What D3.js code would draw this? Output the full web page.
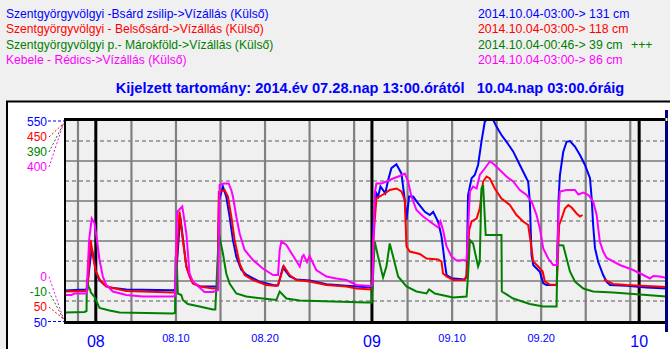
<!DOCTYPE html>
<html><head><meta charset="utf-8">
<script src="https://cdn.jsdelivr.net/npm/d3@7"></script>
<style>
body{margin:0;background:#f0f0f0;overflow:hidden}
svg{display:block}
text{font-family:"Liberation Sans",Arial,sans-serif}
</style>
</head><body><svg id="c" width="670" height="349"></svg>
<script>
// ---------------- data ----------------
const seriesNames = [
  "Szentgyörgyvölgyi -Bsárd zsilip->Vízállás (Külső)",
  "Szentgyörgyvölgyi - Belsősárd->Vízállás (Külső)",
  "Szentgyörgyvölgyi p.- Márokföld->Vízállás (Külső)",
  "Kebele - Rédics->Vízállás (Külső)"
];
const lastReadings = [
  "2014.10.04-03:00-> 131 cm",
  "2014.10.04-03:00-> 118 cm",
  "2014.10.04-00:46-> 39 cm",
  "2014.10.04-03:00-> 86 cm"
];
const lastFlags = ["", "", "+++", ""];
const titleText = "Kijelzett tartomány: 2014.év 07.28.nap 13:00.órától   10.04.nap 03:00.óráig";
const timeRange = ["07.28 13:00", "10.04 03:00"];
const yDomains = [[50, 550], [50, 450], [-10, 390], [0, 400]];
const topLabels = ["550", "450", "390", "400"];
const bottomLabels = ["50", "50", "-10", "0"];

const blueData = [
["07.28 13:00",126],["07.30 20:00",129],["07.31 00:00",130],["07.31 13:00",232],["07.31 20:30",198],
["08.01 01:00",170],["08.01 10:00",152],["08.01 23:30",140],["08.02 13:00",134],["08.04 10:00",129],
["08.09 15:00",127],["08.09 21:30",128],["08.10 11:30",311],["08.11 04:00",186],["08.11 13:00",162],
["08.11 21:30",146],["08.12 15:30",137],["08.14 03:30",136],["08.14 16:00",136],["08.14 20:00",352],
["08.15 06:30",386],["08.15 15:30",361],["08.16 00:30",311],["08.16 09:30",252],["08.16 18:30",211],
["08.17 08:00",178],["08.17 21:30",166],["08.19 09:30",148],["08.20 21:30",140],["08.21 11:00",139],
["08.22 00:00",184],["08.22 18:00",162],["08.23 12:30",154],["08.25 00:00",151],["08.26 21:30",142],
["08.30 06:00",136],["08.31 22:00",134],["09.01 01:00",135],["09.01 03:00",286],["09.01 12:00",369],
["09.01 16:30",361],["09.01 23:00",386],["09.02 06:00",377],["09.02 12:00",369],["09.02 19:30",402],
["09.03 04:30",432],["09.03 18:00",442],["09.04 07:30",419],["09.04 16:30",352],["09.04 21:00",302],
["09.05 04:00",361],["09.05 15:00",361],["09.06 04:30",344],["09.06 22:30",323],["09.07 12:00",315],
["09.07 21:00",323],["09.08 10:30",298],["09.08 19:30",261],["09.09 04:30",194],["09.09 09:00",165],
["09.09 22:30",157],["09.11 10:00",154],["09.11 15:00",161],["09.11 19:00",365],["09.12 04:30",407],
["09.12 13:00",415],["09.12 22:00",440],["09.13 07:00",498],["09.13 16:00",548],["09.13 21:00",553],
["09.14 14:30",553],["09.14 23:30",536],["09.15 13:00",515],["09.16 02:30",498],["09.16 20:30",474],
["09.17 14:30",440],["09.18 04:00",415],["09.18 13:00",398],["09.18 17:30",348],["09.18 22:00",215],
["09.19 02:30",190],["09.19 20:30",173],["09.20 05:30",144],["09.20 14:30",140],["09.21 18:00",140],
["09.21 20:00",232],["09.21 23:00",357],["09.22 02:30",415],["09.22 11:30",473],["09.22 20:30",498],
["09.23 05:30",500],["09.23 19:00",486],["09.24 08:30",465],["09.24 22:00",440],["09.25 11:30",407],
["09.25 16:00",357],["09.25 20:00",290],["09.26 01:00",232],["09.26 09:30",198],["09.26 23:00",165],
["09.27 08:30",148],["09.27 17:30",140],["09.29 14:30",138],["10.01 20:00",134],["10.04 03:00",131]
];
const redData = [
["07.28 13:00",109],["07.30 20:00",110],["07.31 01:30",112],["07.31 10:00",212],["07.31 16:00",182],
["07.31 23:00",152],["08.01 10:00",133],["08.02 04:00",119],["08.04 10:00",110],["08.09 15:30",107],
["08.09 21:30",108],["08.10 09:30",269],["08.10 18:30",212],["08.11 04:00",159],["08.11 12:30",139],
["08.11 21:30",125],["08.12 15:30",119],["08.14 03:30",115],["08.14 16:00",116],["08.14 19:30",308],
["08.15 11:00",312],["08.15 20:00",299],["08.16 05:00",259],["08.16 14:00",212],["08.17 03:30",165],
["08.17 17:00",142],["08.18 15:30",132],["08.20 03:30",122],["08.21 06:30",120],["08.21 11:00",122],
["08.22 02:30",160],["08.22 18:00",142],["08.23 12:30",132],["08.25 00:00",129],["08.26 21:30",122],
["08.29 03:00",119],["08.30 06:00",115],["08.31 22:00",113],["09.01 01:00",114],["09.01 03:00",205],
["09.01 12:00",295],["09.01 21:00",299],["09.02 10:30",305],["09.03 00:00",312],["09.03 18:00",315],
["09.04 07:30",309],["09.04 16:30",292],["09.04 21:00",199],["09.05 06:00",189],["09.06 09:00",184],
["09.07 03:00",175],["09.08 10:30",173],["09.08 19:30",169],["09.08 23:30",145],["09.09 09:00",139],
["09.10 02:30",132],["09.11 10:00",132],["09.11 15:00",142],["09.11 22:00",232],["09.12 04:30",249],
["09.12 18:00",255],["09.13 02:30",275],["09.13 11:30",329],["09.13 21:00",339],["09.14 05:30",335],
["09.14 19:00",315],["09.15 13:00",295],["09.16 11:30",282],["09.17 05:30",262],["09.17 23:30",249],
["09.18 13:00",242],["09.18 19:30",209],["09.19 02:30",169],["09.19 16:00",159],["09.20 04:00",149],
["09.20 10:00",129],["09.20 23:30",123],["09.21 18:00",122],["09.22 00:30",242],["09.22 07:00",255],
["09.22 16:00",275],["09.23 01:00",282],["09.23 10:00",277],["09.23 23:30",265],["09.24 08:30",259],
["09.24 15:30",262],["09.25 12:00",null],["09.27 01:00",133],["09.28 02:00",124],["09.29 14:30",122],
["10.01 20:00",120],["10.04 03:00",118]
];
const greenData = [
["07.28 13:00",7],["07.30 17:30",8],["07.30 23:00",10],["07.31 00:00",74],["07.31 04:30",58],
["07.31 09:00",53],["07.31 10:00",48],["07.31 20:30",38],["08.01 10:00",16],["08.02 13:00",11],
["08.03 16:00",7],["08.09 15:30",5],["08.09 21:30",6],["08.09 23:00",119],["08.10 03:00",92],
["08.10 05:00",45],["08.10 14:30",42],["08.10 18:30",32],["08.11 08:00",24],["08.12 15:30",19],
["08.14 03:30",13],["08.14 10:00",13],["08.14 19:30",165],["08.15 06:30",125],["08.15 15:30",85],
["08.16 00:30",65],["08.16 18:30",45],["08.17 21:30",39],["08.19 18:00",35],["08.21 06:30",32],
["08.21 15:30",49],["08.22 09:30",35],["08.23 21:30",31],["08.27 15:00",29],["08.31 09:00",27],
["08.31 23:30",27],["09.01 07:30",149],["09.01 16:30",119],["09.02 06:00",77],["09.02 15:00",99],
["09.03 00:00",145],["09.03 09:00",119],["09.03 22:30",79],["09.04 21:00",59],["09.06 00:00",49],
["09.07 03:00",45],["09.07 10:00",53],["09.08 01:30",45],["09.10 02:30",37],["09.11 15:00",39],
["09.11 19:00",82],["09.12 00:00",152],["09.12 08:30",145],["09.12 22:00",99],["09.13 02:30",109],
["09.13 07:00",255],["09.13 11:30",262],["09.13 18:30",162],["09.15 13:00",162],["09.15 14:00",49],
["09.16 20:30",35],["09.18 17:30",24],["09.20 05:30",19],["09.21 17:30",19],["09.21 20:00",142],
["09.22 11:30",141],["09.22 20:30",115],["09.23 05:30",89],["09.23 19:00",69],["09.24 17:30",55],
["09.25 20:00",49],["09.28 02:00",47],["09.29 14:30",45],["10.01 20:00",42],["10.04 00:46",39]
];
const magentaData = [
["07.28 13:00",52],["07.29 06:30",52],["07.29 14:30",55],["07.30 23:00",55],["07.31 06:00",162],
["07.31 13:00",205],["07.31 20:30",196],["08.01 03:00",162],["08.01 10:00",122],["08.01 19:00",89],
["08.02 04:00",72],["08.02 22:00",59],["08.04 10:00",52],["08.06 07:00",49],["08.09 15:30",49],
["08.09 21:30",50],["08.10 03:00",218],["08.10 17:00",229],["08.10 20:30",212],["08.11 04:00",175],
["08.11 12:30",95],["08.11 21:30",79],["08.12 15:30",67],["08.13 05:00",58],["08.14 03:30",58],
["08.14 17:30",62],["08.14 21:30",272],["08.15 08:30",275],["08.15 22:00",275],["08.16 05:00",262],
["08.16 09:30",249],["08.16 18:30",209],["08.17 03:30",175],["08.17 17:00",142],["08.18 15:30",122],
["08.19 18:00",105],["08.20 21:30",92],["08.21 11:00",92],["08.21 15:30",142],["08.21 20:00",159],
["08.22 09:30",152],["08.23 21:30",109],["08.24 04:30",129],["08.24 08:00",132],["08.24 17:00",118],
["08.25 00:00",130],["08.25 18:00",102],["08.26 21:30",89],["08.28 00:00",85],["08.29 03:00",82],
["08.30 06:00",72],["08.31 22:00",70],["09.01 01:30",72],["09.01 07:30",255],["09.01 12:00",275],
["09.02 01:30",275],["09.02 15:00",279],["09.03 09:00",285],["09.04 03:00",290],["09.04 16:30",295],
["09.05 01:30",279],["09.05 10:30",249],["09.06 00:00",222],["09.06 18:00",209],["09.07 12:00",199],
["09.08 10:30",187],["09.08 17:00",199],["09.08 23:30",182],["09.09 09:00",149],["09.09 22:30",129],
["09.10 12:00",121],["09.11 15:00",122],["09.12 00:00",259],["09.12 08:30",269],["09.12 18:00",265],
["09.13 02:30",292],["09.13 16:00",305],["09.14 05:30",319],["09.14 14:30",315],["09.15 08:30",302],
["09.16 02:30",289],["09.16 20:30",279],["09.17 14:30",262],["09.18 08:30",252],["09.18 22:00",239],
["09.19 11:30",212],["09.19 20:30",185],["09.20 05:30",145],["09.20 19:00",125],["09.21 08:30",112],
["09.21 19:00",112],["09.21 23:00",225],["09.22 02:30",259],["09.22 20:30",262],["09.23 19:00",262],
["09.24 04:00",253],["09.24 17:30",257],["09.25 07:00",252],["09.25 20:00",239],["09.26 05:30",212],
["09.26 14:00",159],["09.26 23:00",139],["09.27 08:30",126],["09.28 20:00",112],["09.30 08:00",102],
["10.01 11:00",92],["10.02 05:00",85],["10.02 14:00",90],["10.03 08:00",89],["10.04 03:00",86]
];

// ---------------- styles ----------------
const colors = ["#0000ff", "#ff0000", "#008000", "#ff00ff"];
const allData = [blueData, redData, greenData, magentaData];

const svg = d3.select("#c");
const parse = d3.timeParse("%Y.%m.%d %H:%M");
const T = s => parse("2014." + s);

const L = 65, R = 667, TOP = 121, BOT = 321;
const x = d3.scaleTime().domain(timeRange.map(T)).range([L, R]);
const ys = yDomains.map(d => d3.scaleLinear().domain(d).range([BOT, TOP]));

// page background
svg.append("rect").attr("width", 670).attr("height", 349).attr("fill", "#f0f0f0");

// header legend
const hdr = svg.append("g");
seriesNames.forEach((n, i) => {
  hdr.append("text").attr("x", 6).attr("y", 17.5 + i * 15.6).attr("font-size", 12.1)
    .attr("fill", colors[i]).text(n);
  hdr.append("text").attr("x", 478).attr("y", 17.5 + i * 15.6).attr("font-size", 12.3)
    .attr("fill", colors[i]).text(lastReadings[i]);
  if (lastFlags[i]) hdr.append("text").attr("x", 631).attr("y", 17.5 + i * 15.6)
    .attr("font-size", 12.3).attr("fill", colors[i]).text(lastFlags[i]);
});
svg.append("text").attr("x", 370).attr("y", 93).attr("text-anchor", "middle")
  .attr("font-size", 14.6).attr("font-weight", "bold").attr("fill", "#0000ff")
  .style("white-space", "pre").text(titleText);

// white panel
svg.append("rect").attr("x", 7).attr("y", 101.5).attr("width", 700).attr("height", 300)
  .attr("fill", "#ffffff").attr("stroke", "#000").attr("stroke-width", 2);

// plot background
svg.append("rect").attr("x", L).attr("y", TOP - 1).attr("width", R - L).attr("height", BOT - TOP + 1)
  .attr("fill", "#f0f0f0");

// horizontal grid (based on first series scale)
const gy = ys[0];
const hTicks = d3.range(yDomains[0][0] + 50, yDomains[0][1], 50);
svg.append("g").selectAll("line").data(hTicks).join("line")
  .attr("x1", L).attr("x2", R).attr("y1", d => gy(d)).attr("y2", d => gy(d))
  .attr("stroke", d => ((d / 50) % 2 === 0 ? "#8c8c8c" : "#7a7a7a"))
  .attr("stroke-width", d => ((d / 50) % 2 === 0 ? 1.3 : 1.6))
  .attr("stroke-dasharray", d => ((d / 50) % 2 === 0 ? "4,3" : null));

// vertical grid
const days = d3.timeDay.range(d3.timeDay.ceil(x.domain()[0]), x.domain()[1]);
const fiveDays = days.filter(d => [5, 10, 15, 20, 25, 30].includes(d.getDate()));
const monthStarts = days.filter(d => d.getDate() === 1);
svg.append("g").selectAll("line").data(fiveDays).join("line")
  .attr("x1", d => x(d)).attr("x2", d => x(d)).attr("y1", TOP - 1).attr("y2", BOT)
  .attr("stroke", "#808080").attr("stroke-width", 2.2);
svg.append("g").selectAll("line").data(monthStarts).join("line")
  .attr("x1", d => x(d)).attr("x2", d => x(d)).attr("y1", TOP - 2).attr("y2", BOT)
  .attr("stroke", "#000").attr("stroke-width", 3);

// clip
svg.append("clipPath").attr("id", "pc").append("rect")
  .attr("x", L).attr("y", TOP - 2).attr("width", R - L).attr("height", BOT - TOP + 2);

// series
const gS = svg.append("g").attr("clip-path", "url(#pc)");
allData.forEach((data, i) => {
  const line = d3.line().defined(d => d[1] != null)
    .x(d => x(T(d[0]))).y(d => ys[i](d[1]));
  gS.append("path").datum(data).attr("d", line).attr("fill", "none")
    .attr("stroke", colors[i]).attr("stroke-width", 2).attr("stroke-linejoin", "miter");
});

// plot frame
svg.append("line").attr("x1", L - 1).attr("x2", R).attr("y1", TOP - 1.5).attr("y2", TOP - 1.5)
  .attr("stroke", "#000").attr("stroke-width", 3);
svg.append("line").attr("x1", L - 1).attr("x2", R).attr("y1", BOT + 1.5).attr("y2", BOT + 1.5)
  .attr("stroke", "#000").attr("stroke-width", 3);
svg.append("line").attr("x1", L).attr("x2", L).attr("y1", TOP - 3).attr("y2", BOT + 3)
  .attr("stroke", "#000").attr("stroke-width", 2);

// current-time cursor
svg.append("line").attr("x1", x(T(timeRange[1])) - 0.5).attr("x2", x(T(timeRange[1])) - 0.5)
  .attr("y1", 110).attr("y2", 332).attr("stroke", "#000080").attr("stroke-width", 3);
svg.append("rect").attr("x", x(T(timeRange[1])) - 1.5).attr("y", 118).attr("width", 2).attr("height", 3)
  .attr("fill", "#ffff80");

// y-axis labels
const topY = [125.7, 141, 156, 171];
const botY = [326.7, 311, 296, 280.7];
const ax = svg.append("g");
topLabels.forEach((t, i) => {
  ax.append("text").attr("x", 47).attr("y", topY[i]).attr("text-anchor", "end")
    .attr("font-size", 12).attr("fill", colors[i]).text(t);
  if (i === 0) ax.append("line").attr("x1", 48).attr("x2", 64).attr("y1", TOP).attr("y2", TOP)
    .attr("stroke", colors[i]).attr("stroke-dasharray", "3,2");
  else ax.append("line").attr("x1", 49).attr("y1", topY[i] - 4).attr("x2", 63.5).attr("y2", TOP + 2.5)
    .attr("stroke", colors[i]).attr("stroke-dasharray", "2,2");
});
bottomLabels.forEach((t, i) => {
  ax.append("text").attr("x", 47).attr("y", botY[i]).attr("text-anchor", "end")
    .attr("font-size", 12).attr("fill", colors[i]).text(t);
  if (i === 0) ax.append("line").attr("x1", 48).attr("x2", 64).attr("y1", BOT + 0.5).attr("y2", BOT + 0.5)
    .attr("stroke", colors[i]).attr("stroke-dasharray", "3,2");
  else ax.append("line").attr("x1", 49).attr("y1", botY[i] - 4).attr("x2", 63.5).attr("y2", BOT - 2)
    .attr("stroke", colors[i]).attr("stroke-dasharray", "2,2");
});

// x-axis labels
const minorDays = days.filter(d => [10, 20].includes(d.getDate()));
svg.append("g").selectAll("text").data(minorDays).join("text")
  .attr("x", d => x(d)).attr("y", 341.7).attr("text-anchor", "middle")
  .attr("font-size", 11).attr("fill", "#0000ff").text(d3.timeFormat("%m.%d"));
svg.append("g").selectAll("text").data(monthStarts).join("text")
  .attr("x", d => x(d)).attr("y", 347).attr("text-anchor", "middle")
  .attr("font-size", 16).attr("fill", "#0000ff").text(d3.timeFormat("%m"));
</script>
</body></html>
